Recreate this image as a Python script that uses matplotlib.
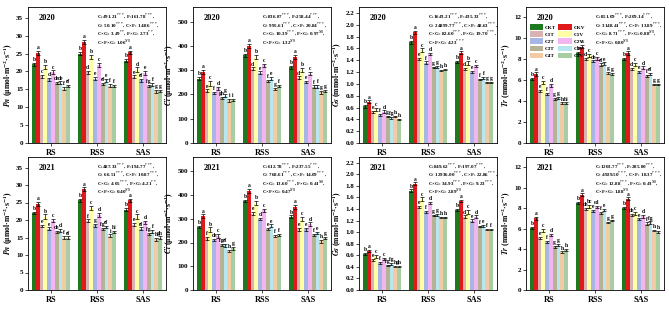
#Photosynthesis parameters, 2020 and 2021


from matplotlib import pyplot as plt
import numpy as np

plt.rcParams['font.family'] = ['Liberation Serif', 'DejaVu Serif']
plt.rcParams['mathtext.fontset'] = 'stix'
plt.rcParams['font.weight'] = 'bold'

groups = ['RS', 'RSS', 'SAS']
treatments = ['CKT', 'CKV', 'C1T', 'C1V', 'C2T', 'C2V', 'C3T', 'C3V', 'C4T', 'C4V']
colors = ['#1f7a1f', '#e0191b', '#d9b3b3', '#ffffa6', '#a8b6e6', '#f3b5f0',
          '#b6b394', '#b8e6ee', '#f2caa4', '#a9cda3']

# values per group, in treatment order

Pn20 = [[22.0, 25.2, 18.7, 21.2, 17.8, 19.8, 16.8, 16.8, 15.2, 16.0],
        [25.0, 28.2, 19.8, 24.0, 18.0, 21.8, 16.5, 17.5, 16.0, 16.0],
        [23.0, 25.3, 18.5, 20.5, 17.5, 19.6, 16.0, 16.3, 14.5, 14.5]]
Ci20 = [[265, 293, 215, 245, 205, 225, 185, 195, 175, 178],
        [362, 400, 305, 355, 290, 320, 255, 265, 222, 235],
        [312, 355, 268, 300, 250, 285, 232, 232, 208, 213]]
Gs20 = [[0.62, 0.70, 0.52, 0.57, 0.47, 0.53, 0.45, 0.42, 0.45, 0.40],
        [1.70, 1.87, 1.42, 1.57, 1.36, 1.51, 1.28, 1.29, 1.22, 1.24],
        [1.37, 1.53, 1.25, 1.35, 1.20, 1.30, 1.08, 1.10, 1.03, 1.03]]
Tr20 = [[6.1, 6.6, 5.0, 5.8, 4.7, 5.5, 4.2, 4.3, 3.8, 3.8],
        [8.6, 9.2, 8.0, 8.4, 7.8, 8.1, 7.5, 7.6, 6.7, 6.6],
        [8.0, 8.6, 7.1, 7.5, 6.8, 7.2, 6.4, 6.6, 5.6, 5.6]]
Pn21 = [[22.0, 24.6, 18.3, 21.0, 17.5, 19.8, 16.5, 17.0, 15.0, 15.0],
        [25.6, 28.8, 19.8, 23.5, 18.5, 21.5, 17.5, 18.0, 15.5, 16.5],
        [23.0, 25.6, 18.7, 21.0, 17.5, 19.3, 16.0, 16.8, 14.5, 15.0]]
Ci21 = [[265, 310, 218, 255, 210, 228, 190, 188, 165, 175],
        [375, 418, 322, 365, 300, 335, 258, 270, 228, 232],
        [308, 350, 255, 298, 255, 278, 232, 240, 205, 218]]
Gs21 = [[0.62, 0.68, 0.52, 0.58, 0.47, 0.54, 0.43, 0.45, 0.40, 0.40],
        [1.72, 1.84, 1.43, 1.57, 1.35, 1.51, 1.29, 1.30, 1.26, 1.26],
        [1.38, 1.54, 1.27, 1.35, 1.20, 1.27, 1.10, 1.11, 1.04, 1.04]]
Tr21 = [[6.1, 7.0, 5.1, 5.8, 4.7, 5.4, 4.2, 4.4, 3.7, 3.9],
        [8.5, 9.3, 7.9, 8.2, 7.7, 8.1, 7.5, 7.8, 6.6, 6.8],
        [8.0, 8.9, 7.3, 7.5, 6.9, 7.2, 6.5, 6.6, 5.8, 5.7]]

# error bars (one per treatment, read roughly)

Pn_err = [0.4, 0.5, 0.4, 0.6, 0.4, 0.5, 0.3, 0.4, 0.4, 0.3]
Ci_err = [6, 8, 6, 9, 5, 7, 5, 6, 5, 5]
Gs_err = [0.02, 0.02, 0.02, 0.03, 0.02, 0.02, 0.01, 0.02, 0.01, 0.01]
Tr_err = [0.1, 0.15, 0.1, 0.15, 0.1, 0.12, 0.1, 0.1, 0.08, 0.08]

# significance letters

Pn20_let = [['b', 'a', 'c', 'b', 'd', 'c', 'de', 'de', 'f', 'ef'],
            ['b', 'a', 'd', 'b', 'e', 'c', 'ef', 'e', 'f', 'f'],
            ['b', 'a', 'e', 'd', 'ef', 'e', 'fg', 'f', 'g', 'g']]
Ci20_let = [['b', 'a', 'e', 'c', 'f', 'd', 'gh', 'g', 'i', 'i'],
            ['b', 'a', 'd', 'b', 'e', 'c', 'f', 'e', 'g', 'f'],
            ['b', 'a', 'd', 'b', 'e', 'c', 'f', 'f', 'g', 'g']]
Gs20_let = [['b', 'a', 'e', 'c', 'f', 'd', 'g', 'fg', 'h', 'h'],
            ['b', 'a', 'e', 'c', 'f', 'd', 'g', 'g', 'h', 'h'],
            ['b', 'a', 'd', 'b', 'e', 'c', 'f', 'f', 'g', 'g']]
Tr20_let = [['b', 'a', 'e', 'c', 'f', 'd', 'g', 'g', 'h', 'hi'],
            ['b', 'a', 'd', 'c', 'de', 'c', 'ef', 'e', 'g', 'g'],
            ['b', 'a', 'd', 'c', 'e', 'd', 'f', 'ef', 'g', 'g']]
Pn21_let = [['b', 'a', 'e', 'b', 'e', 'c', 'de', 'd', 'f', 'ef'],
            ['b', 'a', 'f', 'c', 'g', 'd', 'fg', 'ef', 'i', 'hi'],
            ['b', 'a', 'e', 'c', 'ef', 'd', 'fg', 'f', 'h', 'gh']]
Ci21_let = [['b', 'a', 'f', 'b', 'de', 'c', 'fg', 'ef', 'h', 'g'],
            ['b', 'a', 'e', 'b', 'd', 'c', 'e', 'e', 'f', 'f'],
            ['b', 'a', 'e', 'c', 'e', 'd', 'f', 'e', 'h', 'g']]
Gs21_let = [['b', 'a', 'e', 'c', 'f', 'c', 'fg', 'fg', 'h', 'gh'],
            ['b', 'a', 'e', 'c', 'f', 'd', 'g', 'g', 'h', 'h'],
            ['b', 'a', 'd', 'c', 'e', 'd', 'f', 'e', 'f', 'f']]
Tr21_let = [['b', 'a', 'e', 'c', 'f', 'd', 'g', 'g', 'h', 'h'],
            ['b', 'a', 'de', 'bc', 'e', 'cd', 'f', 'e', 'g', 'g'],
            ['b', 'a', 'de', 'c', 'e', 'd', 'f', 'fg', 'h', 'h']]

# ANOVA F values, one line per list item

S = r'$^{***}$'
S2 = r'$^{**}$'
NS = r'$^{NS}$'
Pn20_txt = ['C:491.21'+S+', F:161.78'+S+',', 'G: 50.10'+S+', C×F: 14.86'+S+',',
            'C×G: 3.49'+S2+', F×G: 2.73'+S2+',', 'C×F×G: 1.06'+NS]
Ci20_txt = ['C:836.87'+S+', F:258.44'+S+',', 'G: 995.61'+S+', C×F: 20.84'+S+',',
            'C×G: 10.39'+S+', F×G: 0.97'+NS+',', 'C×F×G: 1.32'+NS]
Gs20_txt = ['C:1643.21'+S+', F:435.33'+S+',', 'G: 24899.77'+S+', C×F: 48.63'+S+',',
            'C×G: 82.60'+S+', F×G: 19.70'+S+',', 'C×F×G: 4.23'+S]
Tr20_txt = ['C:851.09'+S+', F:209.14'+S+',', 'G: 3148.41'+S+', C×F: 13.89'+S+',',
            'C×G: 8.71'+S+', F×G: 0.88'+NS+',', 'C×F×G: 0.80'+NS]
Pn21_txt = ['C:487.33'+S+', F:194.77'+S+',', 'G: 66.51'+S+', C×F: 10.87'+S+',',
            'C×G: 4.05'+S+', F×G: 4.21'+S2+',', 'C×F×G: 0.40'+NS]
Ci21_txt = ['C:612.78'+S+', F:237.55'+S+',', 'G: 768.61'+S+', C×F: 14.09'+S+',',
            'C×G: 13.60'+S+', F×G: 0.41'+NS+',', 'C×F×G: 0.47'+NS]
Gs21_txt = ['C:849.62'+S+', F:197.07'+S+',', 'G: 12936.00'+S+', C×F: 22.86'+S+',',
            'C×G: 34.93'+S+', F×G: 9.23'+S+',', 'C×F×G: 2.89'+NS]
Tr21_txt = ['C:1203.77'+S+', F:285.80'+S+',', 'G: 4929.50'+S+', C×F: 18.37'+S+',',
            'C×G: 12.88'+S+', F×G: 0.43'+NS+',', 'C×F×G: 1.88'+NS]

Pn_lab = r'$Pn$ ($\mathbf{\mu}$mol·m$^{-2}$·s$^{-1}$)'
Ci_lab = r'$Ci$ ($\mathbf{\mu}$mol·m$^{-2}$·s$^{-1}$)'
Gs_lab = r'$Gs$ (mmol·m$^{-2}$·s$^{-1}$)'
Tr_lab = r'$Tr$ (mmol·m$^{-2}$·s$^{-1}$)'

panels = [
    (Pn20, Pn_err, Pn20_let, Pn20_txt, Pn_lab, '2020', 38, 5, '%d'),
    (Ci20, Ci_err, Ci20_let, Ci20_txt, Ci_lab, '2020', 560, 100, '%d'),
    (Gs20, Gs_err, Gs20_let, Gs20_txt, Gs_lab, '2020', 2.3, 0.2, '%.1f'),
    (Tr20, Tr_err, Tr20_let, Tr20_txt, Tr_lab, '2020', 13, 2, '%d'),
    (Pn21, Pn_err, Pn21_let, Pn21_txt, Pn_lab, '2021', 38, 5, '%d'),
    (Ci21, Ci_err, Ci21_let, Ci21_txt, Ci_lab, '2021', 560, 100, '%d'),
    (Gs21, Gs_err, Gs21_let, Gs21_txt, Gs_lab, '2021', 2.3, 0.2, '%.1f'),
    (Tr21, Tr_err, Tr21_let, Tr21_txt, Tr_lab, '2021', 13, 2, '%d'),
]

W, H = 669, 312
fig = plt.figure(figsize=(6.69, 3.12), dpi=100)

lefts = [28, 193, 359, 526]
aw = 138
rows = [(7, 143), (157, 290)]

width = 0.082
x = np.arange(len(groups))

for k, (vals, err, lets, txt, ylab, year, ytop, ystep, fmt) in enumerate(panels):
    r, c = divmod(k, 4)
    top, bot = rows[r]
    ax = fig.add_axes([lefts[c]/W, 1-bot/H, aw/W, (bot-top)/H])
    vals = np.array(vals)
    handles = []
    for i in range(len(treatments)):
        pos = x + (i - 4.5)*width
        h = ax.bar(pos, vals[:, i], width, color=colors[i], edgecolor='none',
                   label=treatments[i])
        handles.append(h)
        ax.errorbar(pos, vals[:, i], yerr=err[i], fmt='none', ecolor='black',
                    elinewidth=0.5, capsize=1.2, capthick=0.5)
        for g in range(len(groups)):
            ax.text(pos[g], vals[g, i] + err[i] + ytop*0.006, lets[g][i],
                    ha='center', va='bottom', fontsize=4.0, fontweight='bold')
    ax.set_xlim(-0.5, 2.5)
    ax.set_ylim(0, ytop)
    ax.set_yticks(np.arange(0, ytop, ystep))
    ax.yaxis.set_major_formatter(plt.FormatStrFormatter(fmt))
    ax.set_xticks(x)
    ax.set_xticklabels(groups, fontsize=6, fontweight='bold')
    ax.tick_params(axis='y', labelsize=5, length=2, width=0.5, pad=1.5)
    ax.tick_params(axis='x', length=2, width=0.5, pad=2)
    for sp in ax.spines.values():
        sp.set_linewidth(0.6)
    ax.set_ylabel(ylab, fontsize=5.5, fontweight='bold', labelpad=1)
    ax.text(0.08, 0.95, year, transform=ax.transAxes, fontsize=6,
            fontweight='bold', va='top')
    for j, line in enumerate(txt):
        ax.text(0.5, 0.955 - j*0.062, line, transform=ax.transAxes,
                fontsize=3.6, fontweight='bold', va='top', ha='left')
    if k == 3:
        # T treatments in the first column, V in the second
        order = list(range(0, 10, 2)) + list(range(1, 10, 2))
        ax.legend([handles[o] for o in order], [treatments[o] for o in order],
                  ncol=2, fontsize=3.8, loc='upper left',
                  bbox_to_anchor=(0.0, 0.9), handlelength=2.6, handleheight=1.2,
                  columnspacing=0.4, handletextpad=0.3, labelspacing=0.3,
                  borderpad=0.2, frameon=False)

fig.savefig('out.png', dpi=100)
